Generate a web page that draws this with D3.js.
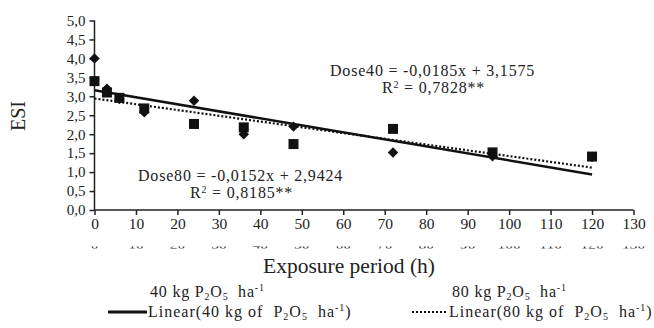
<!DOCTYPE html>
<html>
<head>
<meta charset="utf-8">
<script src="https://cdn.jsdelivr.net/npm/d3@7"></script>
<style>
  body { margin: 0; background: #fff; }
  svg text { font-family: "Liberation Serif", "Times New Roman", Tinos, "DejaVu Serif", serif !important; fill: #222; }
</style>
</head>
<body>
<div id="chart"></div>
<script>
// exposure period (h)
var hours = [0, 3, 6, 12, 24, 36, 48, 72, 96, 120]
// ESI, 40 kg P2O5 ha-1 (diamonds)
var dose40 = [4.0, 3.2, 2.93, 2.58, 2.88, 2.0, 2.2, 1.52, 1.42, 1.4]
// ESI, 80 kg P2O5 ha-1 (squares)
var dose80 = [3.4, 3.1, 2.96, 2.68, 2.27, 2.18, 1.74, 2.14, 1.52, 1.41]
// fitted lines
var fit40 = { a: -0.0185, b: 3.1575 }
var fit80 = { a: -0.0152, b: 2.9424 }
var xTicks = d3.range(0, 131, 10)
var yTicks = d3.range(0, 5.01, 0.5)

var width = 654, height = 328

var svg = d3.select("#chart").append("svg")
    .attr("width", width)
    .attr("height", height)

var x = d3.scaleLinear().domain([0, 130]).range([94.5, 633.5])
var y = d3.scaleLinear().domain([0, 5]).range([210, 20.5])

var comma = d => d3.format(".1f")(d).replace(".", ",")
var coef = d => (d < 0 ? "-" : "") + d3.format(".4f")(Math.abs(d)).replace(".", ",")

// y axis
var yAxis = svg.append("g")
    .attr("transform", "translate(" + x(0) + ",0)")
    .call(d3.axisLeft(y).tickValues(yTicks).tickSize(5).tickPadding(4).tickFormat(comma))
yAxis.attr("font-family", null)
yAxis.selectAll("path, line").attr("stroke", "#222").attr("stroke-width", 1.5)
yAxis.select(".domain").attr("d", "M0," + y(5) + "V" + y(0))
yAxis.selectAll("text").style("font-size", "15px")

// x axis
var xAxis = svg.append("g")
    .attr("transform", "translate(0," + y(0) + ")")
    .call(d3.axisBottom(x).tickValues(xTicks).tickSize(5).tickPadding(3))
xAxis.attr("font-family", null)
xAxis.selectAll("path, line").attr("stroke", "#222").attr("stroke-width", 1.5)
xAxis.select(".domain").attr("d", "M" + x(0) + ",0H" + x(130))
xAxis.selectAll("text").style("font-size", "15.5px")

// clipped second row of tick labels (only the bottoms show)
svg.append("clipPath").attr("id", "ghost")
  .append("rect").attr("x", 0).attr("y", 246.5).attr("width", width).attr("height", 2)
svg.append("g")
    .attr("clip-path", "url(#ghost)")
  .selectAll("text")
  .data(xTicks)
  .enter().append("text")
    .attr("x", d => x(d))
    .attr("y", 249)
    .attr("text-anchor", "middle")
    .style("font-size", "15.5px")
    .text(d => d)

// trend lines
var line = f => d3.line()
    .x(d => x(d))
    .y(d => y(f.a * d + f.b))

svg.append("path")
    .datum([0, 120])
    .attr("d", line(fit40))
    .attr("fill", "none")
    .attr("stroke", "#111")
    .attr("stroke-width", 2.5)

svg.append("path")
    .datum([0, 120])
    .attr("d", line(fit80))
    .attr("fill", "none")
    .attr("stroke", "#111")
    .attr("stroke-width", 2.2)
    .attr("stroke-dasharray", "2,2")

// markers
svg.append("g").selectAll("path")
    .data(hours.map((h, i) => [h, dose80[i]]))
    .enter().append("path")
    .attr("transform", d => "translate(" + x(d[0]) + "," + y(d[1]) + ")")
    .attr("d", d3.symbol().type(d3.symbolSquare).size(100))
    .attr("fill", "#111")

svg.append("g").selectAll("path")
    .data(hours.map((h, i) => [h, dose40[i]]))
    .enter().append("path")
    .attr("transform", d => "translate(" + x(d[0]) + "," + y(d[1]) + ")")
    .attr("d", d3.symbol().type(d3.symbolDiamond2).size(70))
    .attr("fill", "#111")

// equations
function eq(label, f, r2, xx, yy, rx) {
  svg.append("text").attr("x", xx).attr("y", yy)
      .style("font-size", "16px").style("letter-spacing", "0.8px")
      .text(label + " = " + coef(f.a) + "x + " + coef(f.b))
  var t = svg.append("text").attr("x", rx).attr("y", yy + 17)
      .style("font-size", "16px").style("letter-spacing", "0.8px")
  t.append("tspan").text("R")
  t.append("tspan").attr("dy", -5).style("font-size", "10px").text("2")
  t.append("tspan").attr("dy", 5).text(" = " + r2 + "**")
}
eq("Dose40", fit40, "0,7828", 330, 76, 382)
eq("Dose80", fit80, "0,8185", 138, 181, 190)

// axis titles
svg.append("text")
    .attr("transform", "translate(25,116) rotate(-90)")
    .attr("text-anchor", "middle")
    .style("font-size", "20px")
    .text("ESI")

svg.append("text")
    .attr("x", 349)
    .attr("y", 273)
    .attr("text-anchor", "middle")
    .style("font-size", "21.5px")
    .text("Exposure period (h)")

// legend
function p2o5(t, pre, post) {
  t.append("tspan").text(pre + "P")
  t.append("tspan").attr("dy", 3).style("font-size", "10px").text("2")
  t.append("tspan").attr("dy", -3).text("O")
  t.append("tspan").attr("dy", 3).style("font-size", "10px").text("5")
  t.append("tspan").attr("dy", -3).text("  ha")
  t.append("tspan").attr("dy", -6).style("font-size", "10px").text("-1")
  t.append("tspan").attr("dy", 6).text(post)
}

var legend = [
  { dose: "40", x: 150, lx: [108, 147], dash: null, sw: 3 },
  { dose: "80", x: 452, lx: [412, 448], dash: "2,2", sw: 2 }
]
legend.forEach(function(l) {
  p2o5(svg.append("text").attr("x", l.x).attr("y", 297)
      .style("font-size", "16px").style("letter-spacing", "0.8px")
      .attr("xml:space", "preserve"), l.dose + " kg ", "")
  svg.append("line")
      .attr("x1", l.lx[0]).attr("x2", l.lx[1])
      .attr("y1", 312).attr("y2", 312)
      .attr("stroke", "#111").attr("stroke-width", l.sw)
      .attr("stroke-dasharray", l.dash)
  p2o5(svg.append("text").attr("x", l.lx[1] + 1).attr("y", 317)
      .style("font-size", "16px").style("letter-spacing", "1px")
      .attr("xml:space", "preserve"),
      "Linear(" + l.dose + " kg of  ", ")")
})
</script>
</body>
</html>
